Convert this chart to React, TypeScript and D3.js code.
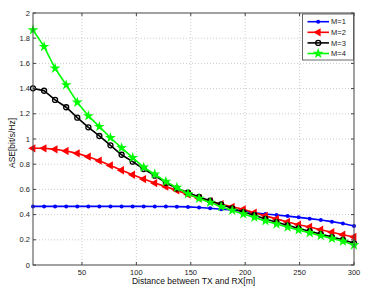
import * as d3 from 'd3';

// distances (m) and ASE values
const distance = [5, 15.2, 25.3, 35.5, 45.7, 55.9, 66.0, 76.2, 86.4, 96.6, 106.7, 116.9, 127.1, 137.2, 147.4,
    157.6, 167.8, 177.9, 188.1, 198.3, 208.4, 218.6, 228.8, 239.0, 249.1, 259.3, 269.5, 279.7, 289.8, 300];

const aseM1 = [0.465, 0.465, 0.465, 0.465, 0.465, 0.465, 0.465, 0.465, 0.465, 0.465, 0.465, 0.464, 0.464, 0.463, 0.461,
    0.456, 0.45, 0.443, 0.436, 0.426, 0.414, 0.405, 0.397, 0.388, 0.378, 0.368, 0.357, 0.344, 0.33, 0.31];
const aseM2 = [0.926, 0.926, 0.918, 0.905, 0.886, 0.86, 0.828, 0.79, 0.752, 0.716, 0.682, 0.65, 0.622, 0.592, 0.56,
    0.53, 0.507, 0.482, 0.462, 0.442, 0.415, 0.39, 0.366, 0.342, 0.32, 0.302, 0.28, 0.26, 0.24, 0.222];
const aseM3 = [1.402, 1.383, 1.31, 1.252, 1.169, 1.093, 1.024, 0.95, 0.875, 0.82, 0.762, 0.709, 0.652, 0.608, 0.575,
    0.54, 0.51, 0.48, 0.45, 0.42, 0.395, 0.365, 0.34, 0.315, 0.29, 0.268, 0.245, 0.222, 0.2, 0.172];
const aseM4 = [1.865, 1.733, 1.561, 1.429, 1.291, 1.183, 1.098, 1.01, 0.93, 0.852, 0.775, 0.72, 0.662, 0.615, 0.565,
    0.528, 0.497, 0.463, 0.433, 0.405, 0.378, 0.35, 0.325, 0.3, 0.278, 0.255, 0.233, 0.21, 0.188, 0.158];

const seriesNames = ['M=1', 'M=2', 'M=3', 'M=4'];
const seriesColors = ['#0000ff', '#ff0000', '#000000', '#00ff00'];
const seriesMarkers = ['dot', 'triangle', 'circle', 'star'];
const seriesValues = [aseM1, aseM2, aseM3, aseM4];

const xTicks = [50, 100, 150, 200, 250, 300];
const yTicks = [0, 0.2, 0.4, 0.6, 0.8, 1, 1.2, 1.4, 1.6, 1.8, 2];

const W = 372, H = 290;
const plot = { left: 33, right: 354, top: 13, bottom: 265 };
const font = '"Liberation Sans", Arial, sans-serif';

function Marker({ kind, color, x, y }: { kind: string; color: string; x: number; y: number }) {
    if (kind === 'dot') return <circle cx={x} cy={y} r={2} fill={color} />;
    if (kind === 'circle') return <circle cx={x} cy={y} r={2.5} fill="none" stroke={color} strokeWidth={1.3} />;
    if (kind === 'triangle') {
        const p = d3.symbol(d3.symbolTriangle, 30)();
        return <path d={p || ''} fill={color} transform={`translate(${x},${y}) rotate(-90)`} />;
    }
    const s = d3.symbol(d3.symbolStar, 36)();
    return <path d={s || ''} fill={color} transform={`translate(${x},${y})`} />;
}

export default function App() {
    const x = d3.scaleLinear().domain([5, 300]).range([plot.left, plot.right]);
    const y = d3.scaleLinear().domain([0, 2]).range([plot.bottom, plot.top]);
    const line = d3.line<number>().x((_, i) => x(distance[i])).y(d => y(d));

    const legend = { x: 302.5, y: 14, w: 51, h: 46 };

    return (
        <svg width={W} height={H} style={{ position: 'absolute', left: 0, top: 0, background: '#fff' }}
            fontFamily={font}>
            <rect x={0} y={0} width={W} height={H} fill="#fff" />

            {/* grid */}
            {xTicks.filter(t => t < 300).map(t => (
                <line key={'gx' + t} x1={x(t)} x2={x(t)} y1={plot.top} y2={plot.bottom}
                    stroke="#b8b8b8" strokeWidth={0.7} strokeDasharray="1,2" />
            ))}
            {yTicks.filter(t => t > 0 && t < 2).map(t => (
                <line key={'gy' + t} x1={plot.left} x2={plot.right} y1={y(t)} y2={y(t)}
                    stroke="#b8b8b8" strokeWidth={0.7} strokeDasharray="1,2" />
            ))}

            {/* series */}
            {seriesValues.map((vals, si) => (
                <g key={seriesNames[si]}>
                    <path d={line(vals) || ''} fill="none" stroke={seriesColors[si]} strokeWidth={1.6} />
                    {vals.map((v, i) => (
                        <Marker key={i} kind={seriesMarkers[si]} color={seriesColors[si]} x={x(distance[i])} y={y(v)} />
                    ))}
                </g>
            ))}

            {/* axes box */}
            <rect x={plot.left} y={plot.top} width={plot.right - plot.left} height={plot.bottom - plot.top}
                fill="none" stroke="#444" strokeWidth={1} />
            {xTicks.map(t => (
                <g key={'tx' + t}>
                    <line x1={x(t)} x2={x(t)} y1={plot.bottom} y2={plot.bottom - 3} stroke="#444" />
                    <line x1={x(t)} x2={x(t)} y1={plot.top} y2={plot.top + 3} stroke="#444" />
                    <text x={x(t)} y={plot.bottom + 10} fontSize={7.5} textAnchor="middle" fill="#222">{t}</text>
                </g>
            ))}
            {yTicks.map(t => (
                <g key={'ty' + t}>
                    <line x1={plot.left} x2={plot.left + 3} y1={y(t)} y2={y(t)} stroke="#444" />
                    <line x1={plot.right} x2={plot.right - 3} y1={y(t)} y2={y(t)} stroke="#444" />
                    <text x={plot.left - 3} y={y(t) + 2.6} fontSize={7.5} textAnchor="end" fill="#222">{t}</text>
                </g>
            ))}

            {/* axis titles */}
            <text x={(plot.left + plot.right) / 2} y={284} fontSize={8.5} textAnchor="middle" fill="#111">
                Distance between TX and RX[m]
            </text>
            <text transform={`translate(15,${143}) rotate(-90)`} fontSize={8.5} textAnchor="middle" fill="#111">
                ASE[bit/s/Hz]
            </text>

            {/* legend */}
            <rect x={legend.x} y={legend.y} width={legend.w} height={legend.h} fill="#fff" stroke="#444" strokeWidth={0.8} />
            {seriesNames.map((name, si) => {
                const ly = 21.7 + si * 10.6;
                return (
                    <g key={'lg' + name}>
                        <line x1={307.5} x2={329} y1={ly} y2={ly} stroke={seriesColors[si]} strokeWidth={1.6} />
                        <Marker kind={seriesMarkers[si]} color={seriesColors[si]} x={318.2} y={ly} />
                        <text x={331} y={ly + 2.6} fontSize={7.5} fill="#222">{name}</text>
                    </g>
                );
            })}
        </svg>
    );
}
